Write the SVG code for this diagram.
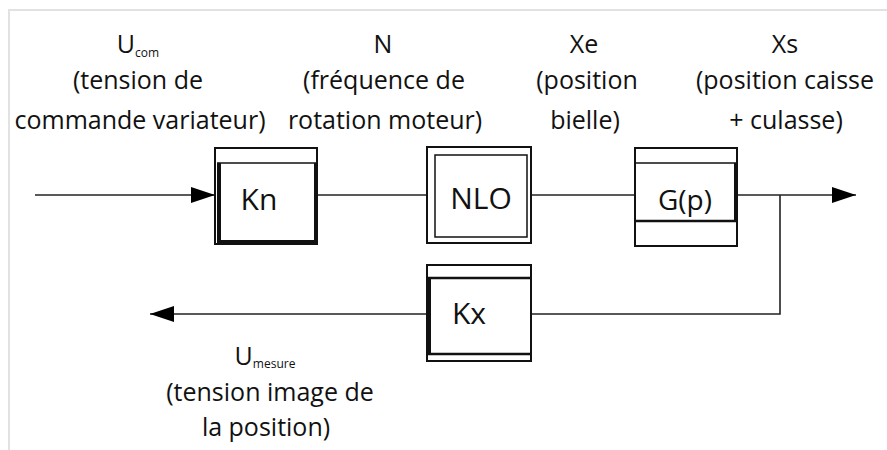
<svg xmlns="http://www.w3.org/2000/svg" width="887" height="450" viewBox="0 0 887 450">
<defs>
<style>
.t{font-family:"Open Sans","Liberation Sans",sans-serif;font-size:25px;fill:#111;text-anchor:middle}
.sub{font-size:12px}
.big{font-size:30px}
.ln{stroke:#222;stroke-width:1.6;fill:none}
.box{fill:#fff;stroke:#111;stroke-width:2}
.thick{stroke:#111;stroke-width:4;fill:none}
.thin{stroke:#111;stroke-width:1.5;fill:none}
.frame{stroke:#e2e2e2;stroke-width:2;fill:none}
</style>
<marker id="arr" viewBox="0 0 24 16" refX="24" refY="8" markerWidth="24" markerHeight="16" markerUnits="userSpaceOnUse" orient="auto">
<path d="M0,0 L24,8 L0,16 Z" fill="#000"/>
</marker>
</defs>
<rect width="887" height="450" fill="#fff"/>
<path class="frame" d="M9,450 V10 H887"/>

<g id="connectors">
<line class="ln" x1="35" y1="195" x2="215" y2="195" marker-end="url(#arr)"/>
<line class="ln" x1="317" y1="195" x2="427" y2="195"/>
<line class="ln" x1="531" y1="195" x2="635" y2="195"/>
<line class="ln" x1="737" y1="195" x2="856" y2="195" marker-end="url(#arr)"/>
<polyline class="ln" points="780,195 780,314 531,314"/>
<line class="ln" x1="427" y1="314" x2="150" y2="314" marker-end="url(#arr)"/>
</g>

<g id="Kn">
<rect class="box" x="215" y="148" width="102" height="96"/>
<line class="thin" x1="217" y1="163" x2="316" y2="163"/>
<path class="thick" d="M219,163 V242 H316 V163"/>
<text class="t big" x="259" y="210">Kn</text>
</g>

<g id="NLO">
<rect class="box" x="427" y="147" width="104" height="96"/>
<rect class="thin" x="435" y="155" width="92" height="82"/>
<text class="t big" x="481" y="209">NLO</text>
</g>

<g id="Gp">
<rect class="box" x="635" y="148" width="102" height="98"/>
<line class="thin" x1="635" y1="163" x2="737" y2="163"/>
<line class="thick" x1="635" y1="221" x2="737" y2="221" style="stroke-width:2.5"/>
<line class="thick" x1="736" y1="163" x2="736" y2="221"/>
<text class="t" x="685" y="210" style="font-size:28px">G(p)</text>
</g>

<g id="Kx">
<rect class="box" x="427" y="265" width="104" height="96"/>
<line class="thin" x1="427" y1="278" x2="531" y2="278" style="stroke-width:2.5"/>
<line class="thin" x1="427" y1="354" x2="531" y2="354" style="stroke-width:2.5"/>
<line class="thick" x1="429" y1="278" x2="429" y2="354"/>
<text class="t big" x="469" y="324">Kx</text>
</g>

<g id="label-ucom">
<text class="t" x="138" y="53">U<tspan class="sub" dy="4">com</tspan></text>
<text class="t" x="138" y="89">(tension de</text>
<text class="t" x="140" y="129">commande variateur)</text>
</g>
<g id="label-n">
<text class="t" x="383" y="53">N</text>
<text class="t" x="384" y="89">(fréquence de</text>
<text class="t" x="385" y="129">rotation moteur)</text>
</g>
<g id="label-xe">
<text class="t" x="584" y="53">Xe</text>
<text class="t" x="587" y="89">(position</text>
<text class="t" x="585" y="129">bielle)</text>
</g>
<g id="label-xs">
<text class="t" x="785" y="53">Xs</text>
<text class="t" x="785" y="89">(position caisse</text>
<text class="t" x="786" y="129">+ culasse)</text>
</g>
<g id="label-umesure">
<text class="t" x="265" y="365">U<tspan class="sub" dy="3">mesure</tspan></text>
<text class="t" x="270" y="401">(tension image de</text>
<text class="t" x="266" y="436">la position)</text>
</g>
</svg>
